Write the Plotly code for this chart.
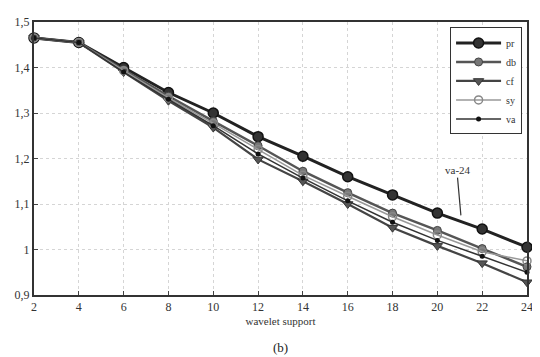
import plotly.graph_objects as go

x = [2, 4, 6, 8, 10, 12, 14, 16, 18, 20, 22, 24]
pr = [1.465, 1.455, 1.400, 1.345, 1.300, 1.248, 1.205, 1.160, 1.120, 1.080, 1.045, 1.005]
db = [1.465, 1.455, 1.395, 1.337, 1.282, 1.228, 1.172, 1.125, 1.080, 1.042, 1.002, 0.962]
cf = [1.465, 1.455, 1.390, 1.327, 1.268, 1.198, 1.150, 1.100, 1.048, 1.008, 0.970, 0.928]
sy = [1.465, 1.455, 1.393, 1.333, 1.277, 1.220, 1.163, 1.117, 1.072, 1.032, 0.995, 0.975]
va = [1.465, 1.455, 1.390, 1.330, 1.272, 1.210, 1.157, 1.107, 1.060, 1.020, 0.985, 0.950]

fig = go.Figure()
common = dict(mode="lines+markers", cliponaxis=False)
fig.add_trace(go.Scatter(x=x, y=pr, name="pr", **common,
                         line=dict(color="#222", width=3),
                         marker=dict(symbol="circle", size=10, color="#333", line=dict(color="#111", width=1.5))))
fig.add_trace(go.Scatter(x=x, y=db, name="db", **common,
                         line=dict(color="#555", width=2.5),
                         marker=dict(symbol="circle", size=8, color="#777", line=dict(color="#444", width=1))))
fig.add_trace(go.Scatter(x=x, y=cf, name="cf", **common,
                         line=dict(color="#444", width=2.2),
                         marker=dict(symbol="triangle-down", size=9, color="#555", line=dict(color="#333", width=1))))
fig.add_trace(go.Scatter(x=x, y=sy, name="sy", **common,
                         line=dict(color="#999", width=1.5),
                         marker=dict(symbol="circle-open", size=8, color="#888", line=dict(width=1.5))))
fig.add_trace(go.Scatter(x=x, y=va, name="va", **common,
                         line=dict(color="#333", width=1.5),
                         marker=dict(symbol="circle", size=5, color="#111")))

fig.add_annotation(x=21.05, y=1.075, ax=20.9, ay=1.158, axref="x", ayref="y",
                   text="va-24", showarrow=True, arrowhead=0, arrowwidth=1.2,
                   arrowcolor="#333", yanchor="bottom", font=dict(size=11, color="#333"))

fig.add_annotation(x=0.5, y=0.0, xref="paper", yref="paper", yshift=-62,
                   text="(b)", showarrow=False, font=dict(size=13, color="#222"))

fig.update_layout(
    width=532, height=349,
    margin=dict(l=22, r=7, t=7, b=62),
    paper_bgcolor="white", plot_bgcolor="white",
    font=dict(family="Liberation Serif", size=12, color="#333"),
    separators=",.",
    showlegend=True,
    legend=dict(x=0.99, y=0.98, xanchor="right", yanchor="top",
                bgcolor="white", bordercolor="#333", borderwidth=1,
                font=dict(size=10), tracegroupgap=0, itemwidth=45),
)
fig.update_xaxes(range=[2, 24], tickvals=x, ticks="inside", ticklen=4,
                 showline=True, linecolor="#333", linewidth=2, mirror=True,
                 showgrid=True, gridcolor="#d5d5d5", griddash="dot",
                 title=dict(text="wavelet support", standoff=4, font=dict(size=11)),
                 zeroline=False)
fig.update_yaxes(range=[0.9, 1.5], tickvals=[0.9, 1.0, 1.1, 1.2, 1.3, 1.4, 1.5],
                 ticks="inside", ticklen=4,
                 showline=True, linecolor="#333", linewidth=2, mirror=True,
                 showgrid=True, gridcolor="#d5d5d5", griddash="dot", zeroline=False)

fig.write_html("out.html")
